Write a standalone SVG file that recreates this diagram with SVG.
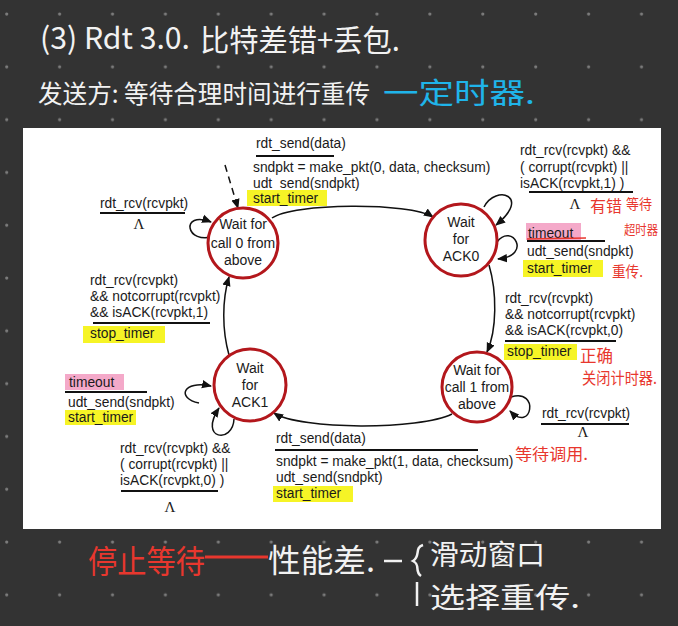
<svg xmlns="http://www.w3.org/2000/svg" width="678" height="626" viewBox="0 0 678 626">
<defs>
<pattern id="dots" patternUnits="userSpaceOnUse" x="0" y="0" width="52.9" height="52.8">
<circle cx="6.7" cy="14" r="1.6" fill="#7c7c7c"/>
</pattern>
<marker id="ah" markerUnits="userSpaceOnUse" markerWidth="10" markerHeight="10" viewBox="0 0 10 10" refX="9" refY="5" orient="auto">
<path d="M0,0.8 L10,5 L0,9.2 Z" fill="#111"/>
</marker>
<style>
.st{fill:#fff;stroke:#b3171c;stroke-width:3}
.nt{font-family:"Liberation Sans",Arial,sans-serif;font-size:14px;fill:#1a1a1a;text-anchor:middle}
.lb{font-family:"Liberation Sans",Arial,sans-serif;font-size:13.8px;fill:#1a1a1a}
.lam{font-family:"Liberation Serif","Times New Roman",serif;font-size:15px;fill:#1a1a1a;text-anchor:middle}
.ul{stroke:#111;stroke-width:2}
.cn{fill:none;stroke:#111;stroke-width:1.5}
.yl{fill:#f6f426}
.pk{fill:#f4a9c9}
.hw{font-family:"Noto Sans CJK SC","Noto Sans",sans-serif;fill:#f2f2f2}
.rd{font-family:"Noto Sans CJK SC","Noto Sans",sans-serif;fill:#e8372e}
</style>
</defs>
<rect width="678" height="626" fill="#333333"/>
<rect width="678" height="626" fill="url(#dots)"/>

<g id="notes-top">
<text class="hw" x="40" y="49" font-size="30" textLength="150" lengthAdjust="spacingAndGlyphs">(3) Rdt 3.0.</text>
<text class="hw" x="200" y="51" font-size="30" textLength="200" lengthAdjust="spacingAndGlyphs">比特差错+丢包.</text>
<text class="hw" x="38" y="103" font-size="25" textLength="332" lengthAdjust="spacingAndGlyphs">发送方: 等待合理时间进行重传</text>
<text x="383" y="104" font-size="29" textLength="152" lengthAdjust="spacingAndGlyphs" font-family="Noto Sans CJK SC, sans-serif" fill="#1fb4ea">一定时器.</text>
</g>

<rect id="slide" x="23" y="128" width="638" height="401" fill="#ffffff"/>

<g id="connectors">
<path class="cn" d="M225,165 L238,208" stroke-dasharray="7,5" marker-end="url(#ah)"/>
<path class="cn" d="M272,218 C292,203 410,202 433,217" marker-end="url(#ah)"/>
<path class="cn" d="M489,265 C497,292 497,330 487,352" marker-end="url(#ah)"/>
<path class="cn" d="M452,414 C420,430 300,430 274,413" marker-end="url(#ah)"/>
<path class="cn" d="M229,355 C222,330 222,300 229,277" marker-end="url(#ah)"/>
<path class="cn" d="M215,236 C185,246 180,210 211,222" marker-end="url(#ah)"/>
<path class="cn" d="M484,207 C496,184 532,196 496,225" marker-end="url(#ah)"/>
<path class="cn" d="M497,242 C512,222 533,256 498,259" marker-end="url(#ah)"/>
<path class="cn" d="M511,397 C540,388 532,434 510,411" marker-end="url(#ah)"/>
<path class="cn" d="M199,403 C176,398 183,380 211,386" marker-end="url(#ah)"/>
<path class="cn" d="M234,419 C233,444 198,440 219,408" marker-end="url(#ah)"/>
</g>

<g id="state-call0">
<circle class="st" cx="243" cy="243" r="35"/>
<text class="nt" x="243" y="229">Wait for</text>
<text class="nt" x="243" y="248">call 0 from</text>
<text class="nt" x="243" y="265">above</text>
</g>
<g id="state-ack0">
<circle class="st" cx="461" cy="240" r="36"/>
<text class="nt" x="461" y="227">Wait</text>
<text class="nt" x="461" y="244">for</text>
<text class="nt" x="461" y="261">ACK0</text>
</g>
<g id="state-ack1">
<circle class="st" cx="250" cy="385" r="36"/>
<text class="nt" x="250" y="373">Wait</text>
<text class="nt" x="250" y="390">for</text>
<text class="nt" x="250" y="407">ACK1</text>
</g>
<g id="state-call1">
<circle class="st" cx="477" cy="387" r="35"/>
<text class="nt" x="477" y="375">Wait for</text>
<text class="nt" x="477" y="392">call 1 from</text>
<text class="nt" x="477" y="409">above</text>
</g>

<g id="label-send0">
<text class="lb" x="256" y="148">rdt_send(data)</text>
<line class="ul" x1="256" y1="156" x2="334" y2="156"/>
<text class="lb" x="253" y="172">sndpkt = make_pkt(0, data, checksum)</text>
<text class="lb" x="253" y="188">udt_send(sndpkt)</text>
<rect class="yl" x="247" y="190" width="80" height="16"/>
<text class="lb" x="253" y="203">start_timer</text>
</g>
<g id="label-call0-loop">
<text class="lb" x="100" y="208">rdt_rcv(rcvpkt)</text>
<line class="ul" x1="100" y1="213" x2="185" y2="213"/>
<text class="lam" x="139" y="229">Λ</text>
</g>
<g id="label-ack0-loop1">
<text class="lb" x="520" y="155">rdt_rcv(rcvpkt) &amp;&amp;</text>
<text class="lb" x="520" y="172">( corrupt(rcvpkt) ||</text>
<text class="lb" x="520" y="188">isACK(rcvpkt,1) )</text>
<line class="ul" x1="529" y1="192" x2="633" y2="192"/>
<text class="lam" x="575" y="209">Λ</text>
</g>
<g id="label-ack0-timeout">
<rect class="pk" x="526" y="223" width="55" height="17"/>
<text class="lb" x="528" y="238">timeout</text>
<line class="ul" x1="527" y1="241" x2="605" y2="241"/>
<text class="lb" x="527" y="256">udt_send(sndpkt)</text>
<rect class="yl" x="523" y="260" width="80" height="17"/>
<text class="lb" x="527" y="273">start_timer</text>
</g>
<g id="label-ack0-ok">
<text class="lb" x="505" y="303">rdt_rcv(rcvpkt)</text>
<text class="lb" x="505" y="319">&amp;&amp; notcorrupt(rcvpkt)</text>
<text class="lb" x="505" y="335">&amp;&amp; isACK(rcvpkt,0)</text>
<line class="ul" x1="505" y1="341" x2="616" y2="341"/>
<rect class="yl" x="504" y="344" width="73" height="16"/>
<text class="lb" x="507" y="356">stop_timer</text>
</g>
<g id="label-call1-loop">
<text class="lb" x="542" y="418">rdt_rcv(rcvpkt)</text>
<line class="ul" x1="541" y1="424" x2="629" y2="424"/>
<text class="lam" x="583" y="437">Λ</text>
</g>
<g id="label-send1">
<text class="lb" x="276" y="443">rdt_send(data)</text>
<line class="ul" x1="275" y1="450" x2="478" y2="450"/>
<text class="lb" x="276" y="466">sndpkt = make_pkt(1, data, checksum)</text>
<text class="lb" x="276" y="482">udt_send(sndpkt)</text>
<rect class="yl" x="273" y="486" width="80" height="16"/>
<text class="lb" x="276" y="498">start_timer</text>
</g>
<g id="label-ack1-loop">
<text class="lb" x="120" y="453">rdt_rcv(rcvpkt) &amp;&amp;</text>
<text class="lb" x="120" y="469">( corrupt(rcvpkt) ||</text>
<text class="lb" x="120" y="485">isACK(rcvpkt,0) )</text>
<line class="ul" x1="121" y1="491" x2="218" y2="491"/>
<text class="lam" x="170" y="512">Λ</text>
</g>
<g id="label-ack1-ok">
<text class="lb" x="90" y="285">rdt_rcv(rcvpkt)</text>
<text class="lb" x="90" y="301">&amp;&amp; notcorrupt(rcvpkt)</text>
<text class="lb" x="90" y="317">&amp;&amp; isACK(rcvpkt,1)</text>
<line class="ul" x1="93" y1="323" x2="210" y2="323"/>
<rect class="yl" x="83" y="326" width="82" height="17"/>
<text class="lb" x="90" y="338">stop_timer</text>
</g>
<g id="label-ack1-timeout">
<rect class="pk" x="65" y="374" width="59" height="16"/>
<text class="lb" x="69" y="387">timeout</text>
<line class="ul" x1="65" y1="392" x2="147" y2="392"/>
<text class="lb" x="68" y="407">udt_send(sndpkt)</text>
<rect class="yl" x="65" y="410" width="71" height="15"/>
<text class="lb" x="68" y="422">start_timer</text>
</g>

<g id="notes-red">
<path d="M527,239 L586,238" stroke="#e8372e" stroke-width="1.5" fill="none"/>
<text class="rd" x="590" y="212" font-size="16" textLength="32" lengthAdjust="spacingAndGlyphs">有错</text>
<text class="rd" x="626" y="209" font-size="14" textLength="26" lengthAdjust="spacingAndGlyphs">等待</text>
<text class="rd" x="624" y="234" font-size="13" textLength="34" lengthAdjust="spacingAndGlyphs">超时器</text>
<text class="rd" x="612" y="277" font-size="15" textLength="31" lengthAdjust="spacingAndGlyphs">重传.</text>
<text class="rd" x="580" y="362" font-size="17" textLength="33" lengthAdjust="spacingAndGlyphs">正确</text>
<text class="rd" x="582" y="384" font-size="16" textLength="75" lengthAdjust="spacingAndGlyphs">关闭计时器.</text>
<text class="rd" x="515" y="460" font-size="16" textLength="73" lengthAdjust="spacingAndGlyphs">等待调用.</text>
</g>

<g id="notes-bottom">
<text class="rd" x="88" y="573" font-size="32" textLength="117" lengthAdjust="spacingAndGlyphs">停止等待</text>
<line x1="205" y1="557" x2="268" y2="557" stroke="#e8372e" stroke-width="3"/>
<text class="hw" x="268" y="572" font-size="32" textLength="107" lengthAdjust="spacingAndGlyphs">性能差.</text>
<line x1="384" y1="561" x2="402" y2="561" stroke="#f2f2f2" stroke-width="2.5"/>
<path d="M423,545 C414,548 421,556 413,561 C421,565 414,571 421,576 M417,582 L417,606" stroke="#f2f2f2" stroke-width="2.5" fill="none"/>
<text class="hw" x="430" y="565" font-size="28" textLength="115" lengthAdjust="spacingAndGlyphs">滑动窗口</text>
<text class="hw" x="430" y="608" font-size="28" textLength="150" lengthAdjust="spacingAndGlyphs">选择重传.</text>
</g>
</svg>
